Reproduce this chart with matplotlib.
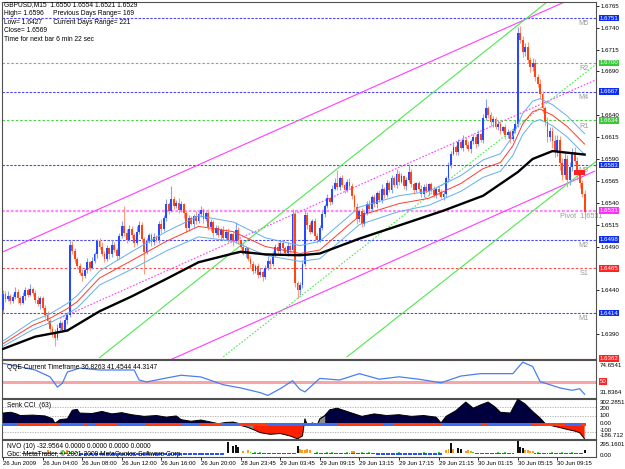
import numpy as np
import matplotlib.pyplot as plt
from matplotlib.transforms import blended_transform_factory
from matplotlib.patches import Rectangle

plt.rcParams['font.family'] = ['Liberation Sans', 'DejaVu Sans']
FS = 4.8
FS_AX = 4.45

# ---------------- data ----------------
# GBPUSD M15, prices written as the last four digits (6436 -> 1.6436)
first_open = 6418
closes = [
    6436, 6430, 6434, 6428, 6432, 6438, 6431, 6426, 6433, 6440,
    6435, 6442, 6437, 6429, 6424, 6431, 6420, 6412, 6405, 6396,
    6392, 6386, 6397, 6403, 6395, 6406, 6412, 6492, 6485, 6476,
    6468, 6460, 6456, 6463, 6472, 6466, 6474, 6481, 6496, 6490,
    6482, 6476, 6488, 6481, 6492, 6486, 6479, 6502, 6513, 6506,
    6498, 6510, 6503, 6494, 6507, 6515, 6499, 6484, 6496, 6503,
    6495, 6501, 6497, 6516, 6510, 6522, 6538, 6531, 6544, 6536,
    6540, 6532, 6538, 6528, 6511, 6522, 6516, 6525, 6519, 6527,
    6532, 6521, 6528, 6512, 6518, 6506, 6511, 6503, 6509, 6500,
    6507, 6498, 6504, 6496, 6509, 6497, 6490, 6482, 6488, 6476,
    6470, 6462, 6468, 6458, 6461, 6455, 6466, 6474, 6470, 6481,
    6490, 6485, 6494, 6488, 6483, 6491, 6486, 6527, 6448, 6440,
    6446, 6470, 6526, 6514, 6507, 6519, 6502, 6498, 6511, 6527,
    6536, 6545, 6541, 6556, 6562, 6558, 6568, 6560, 6555, 6564,
    6559, 6548, 6535, 6521, 6530, 6516, 6528, 6539, 6533, 6546,
    6538, 6551, 6543, 6556, 6549, 6562, 6555, 6568, 6560, 6573,
    6564, 6570, 6559, 6566, 6575, 6561, 6554, 6562, 6556, 6550,
    6558, 6553, 6561, 6555, 6549, 6556, 6552, 6547, 6550, 6568,
    6583, 6596, 6604, 6598, 6609, 6603, 6612, 6606, 6601, 6610,
    6615, 6607, 6618, 6612, 6637, 6648, 6640, 6632, 6636, 6627,
    6630, 6622, 6626, 6617, 6621, 6613, 6622, 6630, 6734, 6726,
    6712, 6718, 6703, 6695, 6700, 6684, 6676, 6664, 6648, 6632,
    6615, 6622, 6610, 6598, 6612, 6585, 6572, 6590, 6566, 6581,
    6598, 6588, 6572, 6562, 6550, 6529,
]
up_wick = [
    4, 3, 5, 2, 4, 6, 3, 2, 5, 4,
    3, 5, 2, 3, 4, 3, 2, 3, 4, 2,
    3, 4, 5, 3, 2, 4, 3, 5, 4, 3,
    2, 3, 4, 3, 5, 2, 4, 3, 3, 4,
    5, 3, 4, 2, 5, 3, 2, 4, 6, 23,
    4, 5, 3, 2, 6, 4, 3, 2, 4, 3,
    3, 4, 2, 3, 5, 4, 6, 3, 15, 4,
    3, 5, 4, 2, 3, 4, 3, 2, 5, 3,
    4, 2, 3, 5, 3, 2, 4, 3, 2, 4,
    3, 4, 2, 3, 9, 3, 2, 4, 3, 2,
    3, 4, 2, 3, 4, 2, 3, 5, 3, 4,
    3, 5, 2, 4, 3, 4, 2, 6, 5, 3,
    3, 4, 5, 3, 4, 2, 3, 4, 3, 4,
    3, 5, 2, 4, 6, 15, 3, 4, 2, 3,
    4, 3, 2, 5, 3, 4, 2, 3, 4, 3,
    4, 2, 3, 5, 2, 4, 3, 4, 2, 5,
    3, 4, 2, 3, 9, 4, 3, 2, 3, 4,
    3, 4, 2, 3, 4, 2, 3, 4, 3, 2,
    4, 3, 5, 2, 4, 3, 5, 3, 4, 3,
    4, 3, 5, 2, 4, 10, 3, 4, 3, 2,
    4, 3, 2, 4, 3, 2, 3, 4, 7, 8,
    5, 4, 6, 3, 5, 4, 3, 5, 4, 3,
    6, 5, 4, 7, 5, 4, 6, 8, 4, 6,
    5, 6, 4, 3, 4, 4,
]
dn_wick = [
    4, 3, 2, 4, 3, 2, 5, 3, 2, 4,
    3, 2, 4, 3, 2, 5, 3, 4, 3, 4,
    5, 10, 3, 4, 3, 2, 4, 3, 4, 5,
    4, 3, 5, 2, 3, 4, 2, 3, 4, 3,
    3, 4, 2, 5, 3, 2, 4, 3, 2, 4,
    4, 2, 3, 5, 2, 3, 4, 25, 3, 2,
    4, 3, 2, 3, 4, 2, 3, 4, 2, 3,
    2, 4, 3, 5, 4, 3, 2, 4, 3, 2,
    3, 4, 2, 3, 4, 5, 3, 2, 4, 3,
    2, 4, 3, 5, 2, 4, 3, 2, 4, 3,
    4, 3, 2, 4, 3, 4, 2, 3, 4, 2,
    3, 2, 4, 3, 2, 4, 3, 2, 4, 9,
    5, 3, 2, 4, 3, 2, 5, 4, 3, 2,
    3, 2, 4, 3, 2, 4, 3, 2, 4, 3,
    2, 4, 3, 5, 3, 4, 3, 2, 4, 3,
    3, 4, 2, 3, 4, 2, 3, 4, 2, 3,
    4, 2, 3, 4, 2, 3, 4, 2, 3, 4,
    3, 2, 4, 3, 2, 4, 3, 2, 4, 3,
    4, 3, 2, 4, 3, 2, 4, 3, 2, 4,
    3, 4, 2, 3, 4, 2, 3, 4, 5, 3,
    4, 3, 2, 4, 3, 5, 3, 2, 4, 3,
    5, 4, 3, 6, 4, 5, 4, 6, 5, 4,
    6, 5, 7, 6, 5, 8, 6, 5, 8, 6,
    5, 4, 6, 5, 4, 8,
]

# moving averages (bar index, last four digits of price)
sma_bars = [0, 13, 26, 39, 52, 66, 79, 93, 96, 106, 120, 128, 144, 160, 178, 194, 208, 214, 222, 235]
sma_vals = [6373, 6387, 6394, 6416, 6433, 6453, 6472, 6482, 6484, 6481, 6480, 6482, 6499, 6514, 6531, 6548, 6575, 6590, 6599, 6595]
ema_bars = [0, 12, 19, 26, 30, 39, 52, 66, 79, 93, 106, 120, 128, 144, 160, 172, 185, 194, 201, 206, 210, 214, 217, 222, 228, 235]
ema_vals = [6379, 6400, 6408, 6419, 6427, 6454, 6474, 6496, 6513, 6507, 6490, 6482, 6486, 6525, 6539, 6545, 6562, 6579, 6586, 6605, 6630, 6644, 6647, 6640, 6627, 6607]
band_half = [3, 5, 5, 6, 7, 8, 10, 11, 12, 11, 10, 9, 10, 10, 9, 8, 9, 10, 10, 11, 12, 12, 12, 12, 12, 12]

# pivot levels from previous day H 1.6596 L 1.6427 C 1.6569
level_names = ['M5', 'R2', 'M4', 'R1', 'M3', 'Pivot', 'M2', 'S1', 'M1', 'S2']
level_values = [1.6751, 1.6700, 1.6667, 1.6634, 1.6583, 1.6531, 1.6498, 1.6465, 1.6414, 1.6362]
level_kinds = ['m', 'r', 'm', 'r', 'm', 'p', 'm', 's', 'm', 's']

# trend channel lines: ((bar, price), (bar, price))
magenta_lines = [((0, 1.6484), (233, 1.6777)), ((60, 1.6351), (239, 1.6576))]
magenta_mid = ((23, 1.6408), (240, 1.6681))
green_lines = [((39, 1.6363), (221, 1.6772)), ((139, 1.6364), (240, 1.6588))]
green_mid = ((89, 1.6364), (240, 1.6699))

# QQE
qqe_bars = [0, 13, 19, 22, 24, 26, 31, 39, 53, 55, 58, 66, 72, 80, 89, 96, 104, 107, 112, 117, 120, 122,
            128, 136, 144, 152, 160, 168, 177, 185, 193, 206, 210, 214, 217, 225, 230, 233, 235]
qqe_vals = [73, 64.6, 56, 43, 48, 62, 67, 64.6, 64.6, 52, 49.5, 54.5, 58, 55.8, 46, 42, 36, 32.5, 41, 51, 40, 37,
            54, 52, 60, 53, 56, 53, 48.5, 57, 60, 60, 74.5, 69, 50, 42, 39, 41, 34]

# Senk CCI (63)
cci_bars = [0, 3, 5, 7, 12, 17, 20, 21, 23, 26, 28, 30, 31, 36, 40, 44, 48, 52, 57, 62, 66, 70, 72, 76, 80,
            84, 87, 90, 93, 95, 96, 99, 101, 104, 108, 112, 116, 119, 121, 122, 123, 125, 127, 128, 130,
            132, 135, 138, 141, 145, 150, 155, 160, 165, 170, 175, 177, 179, 183, 187, 190, 193, 196, 199,
            201, 205, 208, 211, 214, 217, 219, 221, 224, 228, 231, 233, 235]
cci_vals = [130, 140, 125, 100, 105, 95, 60, 5, 50, 60, 165, 175, 130, 125, 150, 120, 135, 110, 90, 100, 80, 95,
            50, 30, 45, 20, 0, 15, 20, 5, -20, -45, -70, -110, -130, -120, -150, -185, -150, 60, -20, 10, -15,
            60, 100, 170, 190, 160, 130, 90, 120, 100, 110, 90, 100, 80, 10, 90, 160, 265, 190, 230, 265, 200,
            140, 130, 300, 240, 150, 70, 5, -20, -40, -70, -90, -110, -186]
stripe_runs = [(0, 5, 'b'), (6, 22, 'r'), (23, 32, 'b'), (33, 34, 'r'), (35, 37, 'b'), (38, 46, 'r'),
               (47, 57, 'b'), (58, 72, 'r'), (73, 79, 'b'), (80, 88, 'r'), (89, 95, 'b'), (96, 106, 'r'),
               (107, 135, 'b'), (136, 153, 'r'), (154, 157, 'b'), (158, 177, 'r'), (178, 193, 'b'),
               (194, 195, 'r'), (196, 213, 'b'), (214, 227, 'r'), (228, 233, 'b'), (234, 235, 'r')]
grey_spans = [(95, 101), (127, 131)]

# NVO (10)
nvo_black_bars = [91, 93, 94, 95, 119, 181, 184, 185, 208, 209, 210, 235]
nvo_black_vals = [250, 170, 190, 150, 160, 240, 110, 90, 295, 150, 120, 60]
nvo_orange_bars = [18, 26, 97, 99, 120, 121, 122, 123, 124, 141, 142, 179, 180, 182, 187, 188, 189, 211, 212, 213, 214]
nvo_orange_vals = [60, 70, 50, 80, 90, 80, 80, 85, 75, 40, 50, 70, 90, 85, 40, 60, 50, 70, 60, 55, 50]
nvo_green_bars = [24, 25, 27, 30, 100, 102, 104, 127, 131, 133, 139, 145, 148, 160, 170, 176, 190, 200, 203, 216, 222, 226, 230]
nvo_blue_runs = [(8, 29, -25), (31, 60, -45), (61, 89, -60), (101, 118, -35), (126, 150, -30),
                 (151, 177, -50), (191, 206, -25), (215, 234, -20)]

time_ticks = [0, 16, 32, 48, 64, 80, 96, 112, 128, 144, 160, 176, 192, 208, 224]
time_labels = ['26 Jun 2009', '26 Jun 04:00', '26 Jun 08:00', '26 Jun 12:00', '26 Jun 16:00',
               '26 Jun 20:00', '28 Jun 23:45', '29 Jun 03:45', '29 Jun 09:15', '29 Jun 13:15',
               '29 Jun 17:15', '29 Jun 21:15', '30 Jun 01:15', '30 Jun 05:15', '30 Jun 09:15']
price_ticks = [1.6390, 1.6440, 1.6490, 1.6515, 1.6540, 1.6565,
               1.6590, 1.6615, 1.6640, 1.6690, 1.6715, 1.6740, 1.6765]

header = ['GBPUSD,M15  1.6550 1.6554 1.6521 1.6529',
          'High= 1.6596     Previous Days Range= 169',
          'Low= 1.6427      Current Days Range= 221',
          'Close= 1.6569',
          'Time for next bar 6 min 22 sec']


def px(v):
    return 1.0 + np.asarray(v, dtype=float) / 1e4


# ---------------- figure ----------------
W, H = 625, 469
fig = plt.figure(figsize=(W / 100, H / 100), dpi=100)
fig.patch.set_facecolor('white')


def panel(top, bottom, left=2, right=596):
    a = fig.add_axes([left / W, 1 - bottom / H, (right - left) / W, (bottom - top) / H])
    a.set_xlim(-0.4, 239.6)
    a.set_xticks([])
    a.set_yticks([])
    for s in a.spines.values():
        s.set_color('#505050')
        s.set_linewidth(0.8)
    return a


ax = panel(2, 359)
axq = panel(360, 398)
axc = panel(399, 439)
axn = panel(440, 457)


def rlabel(a, y, s, fc=None, tc='black', va='center'):
    tr = blended_transform_factory(a.transAxes, a.transData)
    kw = {}
    if fc:
        kw['bbox'] = dict(boxstyle='square,pad=0.1', fc=fc, ec='none')
    a.text(1.006, y, s, transform=tr, ha='left', va=va, fontsize=FS_AX, color=tc,
           clip_on=False, zorder=20, **kw)


# ---- main price panel ----
ax.set_ylim(1.63615, 1.67693)
ax.yaxis.tick_right()
ax.set_yticks(price_ticks)
ax.set_yticklabels(['%.4f' % t for t in price_ticks])
ax.tick_params(axis='y', labelsize=FS_AX, length=2, pad=1.5, width=0.6)

line_style = {'m': dict(color='#4a4af0', lw=0.8, ls=(0, (2.2, 1.3))),
              'r': dict(color='#46d246', lw=0.8, ls=(0, (2.2, 1.8))),
              's': dict(color='#ff4a4a', lw=0.8, ls=(0, (2.2, 1.8))),
              'p': dict(color='#ff86ff', lw=1.6, ls=(0, (1.2, 0.8)))}
box_color = {'m': '#0b2df5', 'r': '#38c838', 's': '#ff2424', 'p': '#ff30ff'}
for name, val, kind in zip(level_names, level_values, level_kinds):
    ax.axhline(val, zorder=1, **line_style[kind])
    rlabel(ax, val, '%.4f' % val, fc=box_color[kind], tc='white')
    if name == 'S2':
        continue
    if name == 'Pivot':
        ax.annotate('Pivot  %.4f' % val, (225, val), xytext=(0, -1.5), textcoords='offset points',
                    ha='left', va='top', fontsize=FS + 0.4, color='#9a9a9a', zorder=2)
    else:
        ax.annotate(name, (236.5, val), xytext=(0, -1.5), textcoords='offset points',
                    ha='right', va='top', fontsize=FS + 0.4, color='#9a9a9a', zorder=2)

for (p0, p1) in magenta_lines:
    ax.plot([p0[0], p1[0]], [p0[1], p1[1]], color='#ff3cff', lw=0.8, zorder=1)
ax.plot([magenta_mid[0][0], magenta_mid[1][0]], [magenta_mid[0][1], magenta_mid[1][1]],
        color='#ff3cff', lw=0.8, ls=(0, (1.5, 1.5)), zorder=1)
for (p0, p1) in green_lines:
    ax.plot([p0[0], p1[0]], [p0[1], p1[1]], color='#4ee84e', lw=0.8, zorder=1)
ax.plot([green_mid[0][0], green_mid[1][0]], [green_mid[0][1], green_mid[1][1]],
        color='#4ee84e', lw=0.8, ls=(0, (1.5, 1.5)), zorder=1)

c = px(closes)
o = px(np.r_[first_open, closes[:-1]])
hi = np.maximum(o, c) + np.array(up_wick) / 1e4
lo = np.minimum(o, c) - np.array(dn_wick) / 1e4
x = np.arange(len(c))
bull = c >= o
ax.vlines(x, lo, hi, colors=np.where(bull, '#86a2ff', '#ff9a7c'), lw=0.8, zorder=3)
ax.bar(x, np.maximum(np.abs(c - o), 0.00008), bottom=np.minimum(o, c), width=0.75,
       color=np.where(bull, '#2748ff', '#ff4612'), lw=0, zorder=4)

ema = px(ema_vals)
half = np.array(band_half) / 1e4
ax.plot(ema_bars, ema + half, color='#62aef0', lw=0.7, zorder=5)
ax.plot(ema_bars, ema - half, color='#62aef0', lw=0.7, zorder=5)
ax.plot(ema_bars, ema, color='#ff3a2c', lw=0.7, zorder=5)
ax.plot(sma_bars, px(sma_vals), color='black', lw=1.7, zorder=6)
ax.add_patch(Rectangle((230.8, 1.65715), 4.2, 0.0006, color='#ff2020', lw=0, zorder=7))

for k, line in enumerate(header):
    fig.text(4 / W, 1 - (5 + 8.6 * k) / H, line, fontsize=FS, va='center', ha='left')

# ---- QQE panel ----
axq.set_ylim(29.3, 77.2)
axq.axhline(50, color='#f5a6a6', lw=2.2, zorder=1)
axq.plot(qqe_bars, qqe_vals, color='#4a7ff0', lw=0.9, zorder=2)
axq.text(0.008, 0.8, 'QQE Current Timeframe 36.8263 41.4544 44.3147', transform=axq.transAxes,
         fontsize=FS, va='center')
rlabel(axq, 70.5, '74.6541')
rlabel(axq, 50, '50', fc='#ff2424', tc='white')
rlabel(axq, 36.0, '31.8364')

# ---- CCI panel ----
axc.set_ylim(-187, 302)
cb = np.array(cci_bars)
cv = np.array(cci_vals, dtype=float)
axc.fill_between(cb, cv, 0, where=cv >= 0, interpolate=True, color='#00003f', lw=0, zorder=1)
axc.fill_between(cb, cv, 0, where=cv <= 0, interpolate=True, color='#ff2000', lw=0, zorder=1)
for s0, s1 in grey_spans:
    m = (cb >= s0) & (cb <= s1)
    axc.fill_between(cb[m], cv[m], 0, color='#8c8c8c', lw=0, zorder=2)
axc.plot(cb, cv, color='black', lw=0.7, zorder=3)
for lv in (200, 100, -100):
    axc.axhline(lv, color='#a8a8a8', lw=0.6, ls=(0, (1.5, 1.5)), zorder=0)
stripe_col = {'b': '#3a6df0', 'r': '#ff3a12'}
for s0, s1, col in stripe_runs:
    axc.bar(np.arange(s0, s1 + 1), 36, bottom=-28, width=1.0, color=stripe_col[col], lw=0, zorder=4)
axc.text(0.008, 0.85, 'Senk CCI  (63)', transform=axc.transAxes, fontsize=FS, va='center', zorder=6)
for v, s in [(262, '302.2851'), (185, '200'), (100, '100'), (5, '0.00'), (-80, '-100'), (-150, '-186.712')]:
    rlabel(axc, v, s)

# ---- NVO panel ----
axn.set_ylim(-100, 310)
for s0, s1, depth in nvo_blue_runs:
    axn.bar(np.arange(s0, s1 + 1), depth, width=0.8, color='#2c50f0', lw=0, zorder=1)
axn.bar(nvo_green_bars, 18, width=0.8, color='#30e030', lw=0, zorder=2)
axn.bar(nvo_orange_bars, nvo_orange_vals, width=0.8, color='#ff9a20', lw=0, zorder=2)
axn.bar(nvo_black_bars, nvo_black_vals, width=0.8, color='#101010', lw=0, zorder=3)
axn.text(0.008, 0.62, 'NVO (10) -32.9564 0.0000 0.0000 0.0000 0.0000', transform=axn.transAxes,
         fontsize=FS, va='center', zorder=5)
axn.text(0.008, 0.18, 'Gbc: MetaTrader, \u00a9 2001-2009 MetaQuotes Software Corp.', transform=axn.transAxes,
         fontsize=FS, va='center', zorder=5)
rlabel(axn, 200, '295.1601')
rlabel(axn, -60, '0.00')

axn.set_xticks(time_ticks)
axn.set_xticklabels(time_labels)
axn.tick_params(axis='x', labelsize=4.3, length=2, pad=1, width=0.6)
for lbl in axn.get_xticklabels():
    lbl.set_ha('left')

fig.savefig('out.png', dpi=100, facecolor='white')
